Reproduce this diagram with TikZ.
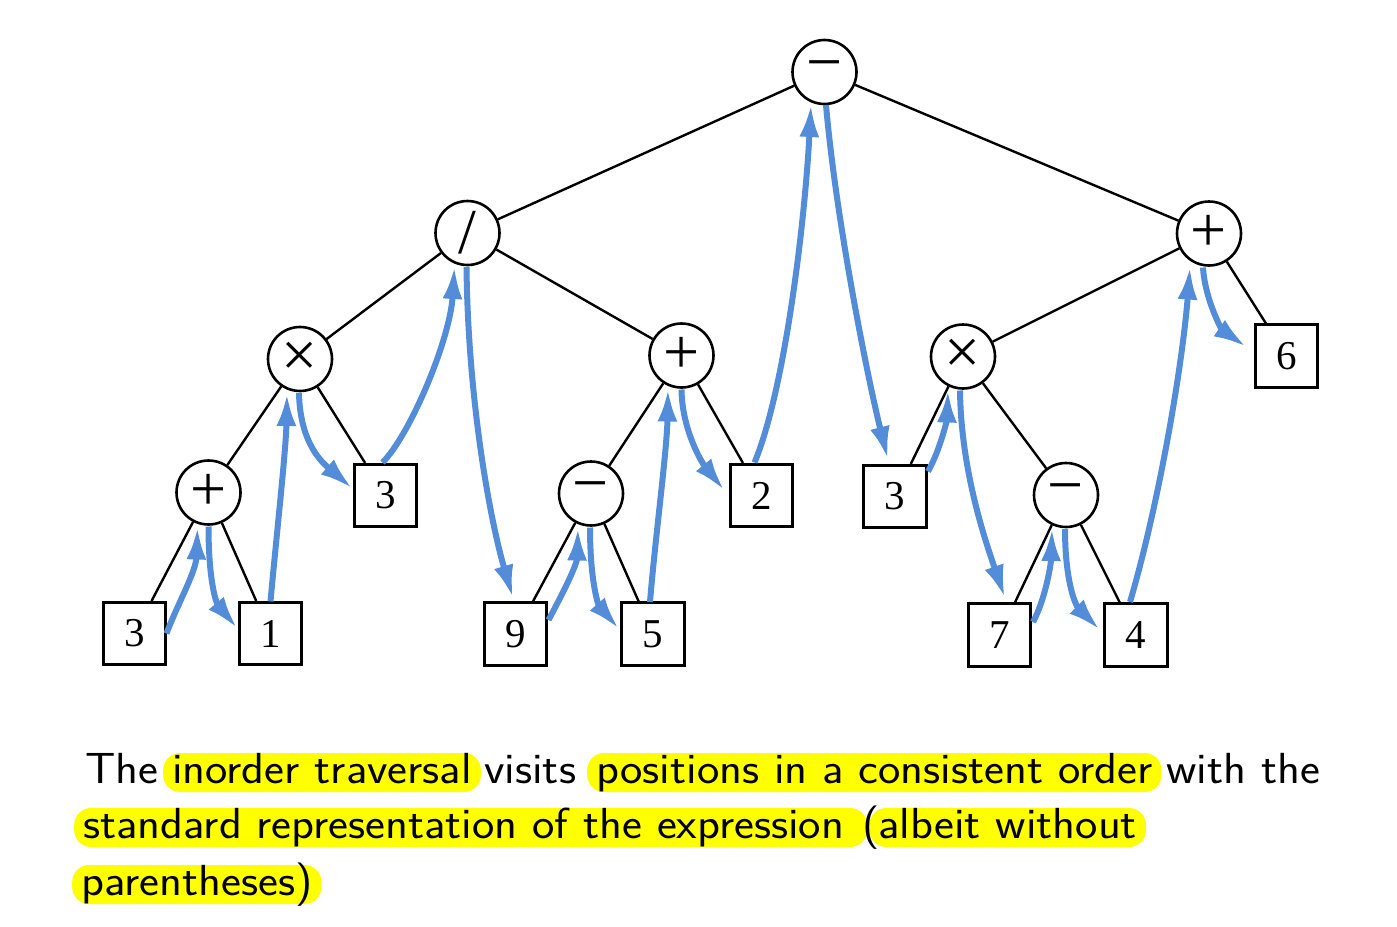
\documentclass[tikz,border=0pt]{standalone}
\usepackage{fontspec}
\newfontfamily\tfont{Liberation Serif}
\usetikzlibrary{arrows.meta,calc}
\definecolor{trav}{RGB}{83,141,218}
\definecolor{hlc}{RGB}{255,255,0}
\newcommand{\capt}[1]{\scalebox{1.09}[1]{#1}}
\begin{document}
\begin{tikzpicture}[x=1pt,y=-1pt,
  op/.style={circle,draw,line width=2.6pt,fill=white,minimum size=64pt,inner sep=0pt,font=\tfont\fontsize{64}{64}\selectfont},
  leaf/.style={rectangle,draw,line width=2.6pt,fill=white,minimum size=62.5pt,inner sep=0pt,font=\tfont\fontsize{41}{41}\selectfont},
  edge/.style={line width=2.4pt},
  tr/.style={draw=trav,line width=6pt,-{Latex[length=33pt,width=20pt]}},
  hl/.style={fill=hlc,rounded corners=17pt,anchor=base west,inner xsep=9pt,inner ysep=0pt,text height=30pt,text depth=9pt,font=\sffamily\fontsize{43.5}{56}\selectfont},
  plain/.style={anchor=base west,inner sep=0pt,font=\sffamily\fontsize{43.5}{56}\selectfont}]
\useasboundingbox (0,0) rectangle (1397,926);
% operator nodes
\node[op] (root)   at (824.5,72)   {−};
\node[op] (div)    at (467.5,233)  {/};
\node[op] (plusR)  at (1209,233.5) {+};
\node[op] (timesL) at (300,359)    {×};
\node[op] (plusM)  at (681.5,355.5){+};
\node[op] (timesR) at (963,356.5)  {×};
\node[op] (plusL)  at (208.5,492.5){+};
\node[op] (minusM) at (591,493.5)  {−};
\node[op] (minusR) at (1066,495)   {−};
% leaves
\node[leaf] (l3a) at (385.5,495.5) {3};
\node[leaf] (l2)  at (761.5,495.5) {2};
\node[leaf] (l3b) at (895,496.5)   {3};
\node[leaf] (l6)  at (1286.5,356)  {6};
\node[leaf] (b3)  at (134.5,633.5) {3};
\node[leaf] (b1)  at (270.5,633.5) {1};
\node[leaf] (b9)  at (515.5,634)   {9};
\node[leaf] (b5)  at (653,634)     {5};
\node[leaf] (b7)  at (999.5,635)   {7};
\node[leaf] (b4)  at (1136,635)    {4};
% tree edges
\foreach \a/\b in {root/div,root/plusR,div/timesL,div/plusM,timesL/plusL,timesL/l3a,
  plusL/b3,plusL/b1,plusM/minusM,plusM/l2,minusM/b9,minusM/b5,plusR/timesR,plusR/l6,
  timesR/l3b,timesR/minusR,minusR/b7,minusR/b4}
  \draw[edge] (\a) -- (\b);
% traversal arrows
\draw[tr] ($(b3)+(32,0)$) .. controls (178,603) and (196,572) .. ($(plusL)+(-11,34)$);
\draw[tr] ($(plusL)+(0,34)$) .. controls (208.5,580) and (216,603) .. ($(b1)+(-33,-5)$);
\draw[tr] ($(b1)+(0,-32)$) .. controls (276,540) and (286,450) .. ($(timesL)+(-13,34)$);
\draw[tr] ($(timesL)+(-1,34)$) .. controls (300,445) and (324,464) .. ($(l3a)+(-33,-7)$);
\draw[tr] ($(l3a)+(-3,-33)$) .. controls (410,435) and (450,340) .. ($(div)+(-13,33)$);
\draw[tr] ($(div)+(-1,34)$) .. controls (468,400) and (490,520) .. ($(b9)+(-2.5,-36)$);
\draw[tr] ($(b9)+(33,-14)$) .. controls (562,595) and (577,565) .. ($(minusM)+(-13,34)$);
\draw[tr] ($(minusM)+(-1,34)$) .. controls (590,580) and (598,605) .. ($(b5)+(-34,-5)$);
\draw[tr] ($(b5)+(-3,-32)$) .. controls (655,540) and (667,450) .. ($(plusM)+(-13.5,33)$);
\draw[tr] ($(plusM)+(0,34)$) .. controls (682,430) and (702,463) .. ($(l2)+(-37,-5)$);
\draw[tr] ($(l2)+(-7,-33)$) .. controls (785,390) and (805,220) .. ($(root)+(-13.5,32)$);
\draw[tr] ($(root)+(1.5,33)$) .. controls (836,220) and (868,380) .. ($(l3b)+(-7,-37)$);
\draw[tr] ($(l3b)+(33,-25)$) .. controls (940,450) and (947,420) .. ($(timesR)+(-15,33)$);
\draw[tr] ($(timesR)+(-3,34)$) .. controls (961,470) and (985,540) .. ($(b7)+(5.5,-37)$);
\draw[tr] ($(b7)+(33.5,-13)$) .. controls (1045,600) and (1051,565) .. ($(minusR)+(-14,33)$);
\draw[tr] ($(minusR)+(-1,34)$) .. controls (1065,580) and (1075,605) .. ($(b4)+(-36,-5)$);
\draw[tr] ($(b4)+(-6,-33)$) .. controls (1160,500) and (1183,360) .. ($(plusR)+(-19,33)$);
\draw[tr] ($(plusR)+(-6,34)$) .. controls (1205,300) and (1222,330) .. ($(l6)+(-40,-9)$);
% caption
\node[plain] (t1) at (85,783) {\capt{The}};
\node[hl] (h1) at (163,783) {\capt{inorder traversal}};
\node[plain] (t2) at (484,783) {\capt{visits}};
\node[hl] (h2) at (587,783) {\capt{positions in a consistent order}};
\node[plain] (t3) at (1166,783) {\capt{with the}};
\node[hl] (h3) at (74,838) {\capt{standard representation of the expression\kern13pt}};
\node[hl] (h4) at (869,838) {\capt{albeit without}};
\node[plain] (t4) at (862,838) {\capt{(}};
\node[hl] (h5) at (72,895) {\capt{parentheses)}};
\end{tikzpicture}
\end{document}
